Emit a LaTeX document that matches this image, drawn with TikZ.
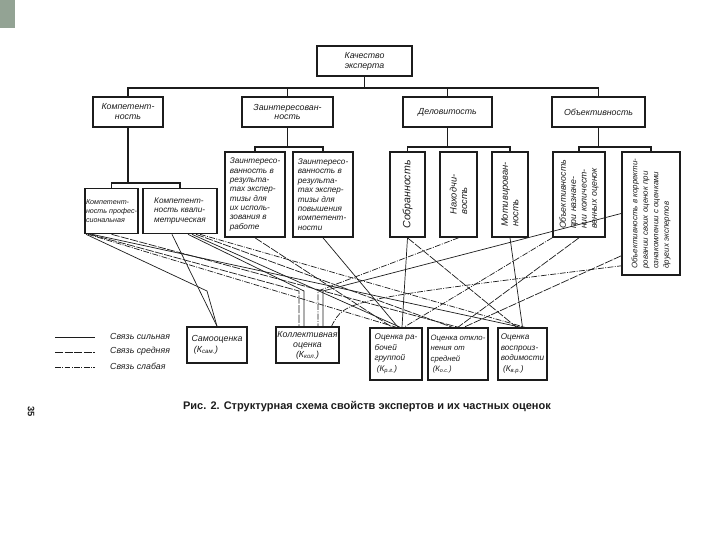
\documentclass[tikz,border=0pt]{standalone}
\usepackage{fontspec}
\setmainfont{Liberation Sans}
\usetikzlibrary{calc}
\definecolor{Ink}{HTML}{1C1C1C}
\definecolor{SlideTab}{HTML}{93A394}

\begin{document}
\begin{tikzpicture}[x=0.03cm,y=-0.03cm,
    sz/.style 2 args={minimum width=#1*0.03cm,minimum height=#2*0.03cm},
    box/.style={draw=Ink,line width=1.4pt,fill=white,inner sep=1pt,align=center,
                font=\fontsize{7.5}{8.5}\selectfont\itshape,text=Ink},
    tbox/.style={box,align=left,font=\fontsize{7}{8}\selectfont\itshape},
    ebox/.style={box,align=left,font=\fontsize{7}{9}\selectfont\itshape},
    vtxt/.style={rotate=90,align=left,inner sep=0pt,text=Ink,
                 font=\fontsize{8}{9}\selectfont\itshape},
    tree/.style={draw=Ink,line width=0.9pt},
    sline/.style={draw=Ink,line width=0.6pt},
    mline/.style={sline,dash pattern=on 7pt off 1.2pt},
    wline/.style={sline,dash pattern=on 5pt off 1.2pt on 0.8pt off 1.2pt},
    lgd/.style={font=\fontsize{7.5}{8.5}\selectfont\itshape,text=Ink,anchor=west,inner sep=0pt}]
  \useasboundingbox (0,0) rectangle (720,540);
  \fill[SlideTab] (0,0) rectangle (15,28);

  % properties of the expert
  \node[box,sz={95}{30}]  (quality) at (364.5, 61) {Качество\\эксперта};
  \node[box,sz={70}{30}]  (komp)    at (128,  112) {Компетент-\\ность};
  \node[box,sz={91}{30}]  (zainter) at (287.5,112) {Заинтересован-\\ность};
  \node[box,sz={89}{30}]  (delov)   at (447.5,112) {Деловитость};
  \node[box,sz={93}{30}]  (obj)     at (598.5,112) {Объективность};

  \node[tbox,sz={47}{45},font=\fontsize{6.1}{7.6}\selectfont\itshape] (kprof) at (111.5,211) {Компетент-\\ность профес-\\сиональная};
  \node[tbox,sz={74}{45}] (kqual)   at (180,  211) {Компетент-\\ность квали-\\метрическая};
  \node[tbox,sz={60}{85}] (zwork)   at (255,194.5) {Заинтересо-\\ванность в\\результа-\\тах экспер-\\тизы для\\их исполь-\\зования в\\работе};
  \node[tbox,sz={60}{85}] (zcomp)   at (323,194.5) {Заинтересо-\\ванность в\\результа-\\тах экспер-\\тизы для\\повышения\\компетент-\\ности};

  \node[box,sz={35}{85}]  (sobr)    at (407.5,194.5) {};
  \node[box,sz={37}{85}]  (nakh)    at (458.5,194.5) {};
  \node[box,sz={36}{85}]  (motiv)   at (510,  194.5) {};
  \node[box,sz={52}{85}]  (objlist) at (579,  194.5) {};
  \node[box,sz={58}{123}] (objcorr) at (651,  213.5) {};
  \node[vtxt,font=\fontsize{9}{10}\selectfont\itshape] (sobrT) at (sobr) {Собранность};
  \node[vtxt] (nakhT)    at (nakh)    {Находчи-\\вость};
  \node[vtxt] (motivT)   at (motiv)   {Мотивирован-\\ность};
  \node[vtxt,font=\fontsize{7.5}{8.8}\selectfont\itshape] (objlistT) at (objlist) {Объективность\\при назначе-\\нии количест-\\венных оценок};
  \node[vtxt,font=\fontsize{6.8}{9}\selectfont\itshape] (objcorrT) at (objcorr) {Объективность в корректи-\\ровании своих оценок при\\ознакомлении с оценками\\других экспертов};

  % partial estimates
  \node[ebox,sz={60}{36},font=\fontsize{7.5}{9}\selectfont\itshape] (selfev) at (217,345) {Самооценка\\\ (\textit{К}\textsubscript{сам.})};
  \node[box,sz={61}{36}]  (collev)  at (307.5,345) {Коллективная\\оценка\\(\textit{К}\textsubscript{кол.})};
  \node[ebox,sz={52}{52}] (rg)      at (396,  354) {Оценка ра-\\бочей\\группой\\\ (\textit{К}\textsubscript{р.г.})};
  \node[ebox,sz={60}{52},font=\fontsize{6.6}{9}\selectfont\itshape] (os) at (458,354) {Оценка откло-\\нения от\\средней\\\ (\textit{К}\textsubscript{о.с.})};
  \node[ebox,sz={49}{52}] (vr)      at (522.5,354) {Оценка\\воспроиз-\\водимости\\\ (\textit{К}\textsubscript{в.р.})};

  % tree
  \coordinate (busA) at (0,88);
  \coordinate (busK) at (0,183);
  \coordinate (busZ) at (0,147);
  \draw[tree] (quality.south) -- (quality.south |- busA);
  \draw[tree] (komp.north) |- (obj.north |- busA) -- (obj.north);
  \draw[tree] (zainter.north) -- (zainter.north |- busA);
  \draw[tree] (delov.north) -- (delov.north |- busA);
  \draw[tree] (komp.south) -- (komp.south |- busK);
  \draw[tree] (kprof.north) |- (kqual.north |- busK) -- (kqual.north);
  \draw[tree] (zainter.south) -- (zainter.south |- busZ);
  \draw[tree] (zwork.north) |- (zcomp.north |- busZ) -- (zcomp.north);
  \draw[tree] (delov.south) -- (delov.south |- busZ);
  \draw[tree] (sobr.north) |- (motiv.north |- busZ) -- (motiv.north);
  \draw[tree] (obj.south) -- (obj.south |- busZ);
  \draw[tree] (objlist.north) |- (objcorr.north |- busZ) -- (objcorr.north);

  % links to estimates
  \coordinate (sJ) at (207,291);
  \coordinate (cA) at (299,291);
  \coordinate (cB) at (304,291);
  \coordinate (cC) at (318,291);
  \coordinate (cD) at (323,291);
  \draw[sline] ($(kprof.south west)+(2,0)$) -- (sJ) -- (selfev.north);
  \draw[sline] ($(kqual.south)+(-8,0)$) -- (selfev.north);
  \draw[mline] ($(kprof.south west)+(6,0)$) -- (cA) -- (cA |- collev.north);
  \draw[sline] ($(kqual.south)+(8,0)$) -- (cB) -- (cB |- collev.north);
  \draw[wline] (nakh.south) -- (cC) -- (cC |- collev.north);
  \draw[sline] (objcorr.west) -- (cD) -- (cD |- collev.north);
  \draw[wline] ($(kprof.south west)+(4,0)$) -- (rg.north);
  \draw[mline] (kprof.south) -- (os.north);
  \draw[sline] ($(kprof.south west)+(8,0)$) -- ($(vr.north)+(-2,0)$);
  \draw[sline] ($(kqual.south)+(12,0)$) -- ($(rg.north)+(4,0)$);
  \draw[mline] ($(kqual.south)+(16,0)$) -- ($(os.north)+(-6,0)$);
  \draw[wline] ($(kqual.south)+(20,0)$) -- ($(vr.north)+(2,0)$);
  \draw[mline] (zwork.south) -- ($(rg.north)+(-4,0)$);
  \draw[sline] (zcomp.south) -- ($(rg.north)+(2,0)$);
  \draw[sline] (sobr.south) -- ($(rg.north)+(6,0)$);
  \draw[mline] (sobr.south) -- ($(vr.north)+(-6,0)$);
  \draw[sline] (motiv.south) -- (vr.north);
  \draw[mline] (objlist.south) -- (os.north);
  \draw[wline] (objlist.south west) -- ($(rg.north)+(8,0)$);
  \draw[mline] ($(objcorr.south west)+(0,-20)$) -- ($(os.north)+(6,0)$);
  \draw[wline] ($(collev.north east)+(-8,0)$) .. controls (345,300) .. ($(objcorr.south west)+(0,-10)$);

  % legend
  \coordinate (l1a) at (55,337); \coordinate (l1b) at (95,337);
  \coordinate (l2a) at (55,352); \coordinate (l2b) at (95,352);
  \coordinate (l3a) at (55,367); \coordinate (l3b) at (95,367);
  \draw[sline] (l1a) -- (l1b);
  \draw[mline] (l2a) -- (l2b);
  \draw[wline] (l3a) -- (l3b);
  \node[lgd] (leg1) at (110,336) {Связь сильная};
  \node[lgd] (leg2) at (110,351) {Связь средняя};
  \node[lgd] (leg3) at (110,366) {Связь слабая};

  \node[font=\fontsize{9.4}{10}\selectfont\bfseries,text=Ink] (caption) at (367,407)
    {Рис. 2. Структурная схема свойств экспертов и их частных оценок};
  \node[rotate=-90,font=\fontsize{8}{9}\selectfont\bfseries,text=Ink] (pagenum) at (31,412) {35};
\end{tikzpicture}
\end{document}
